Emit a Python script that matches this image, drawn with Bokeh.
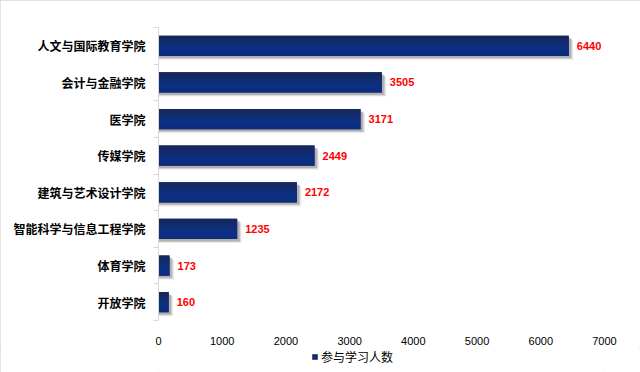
from bokeh.plotting import figure
from bokeh.layouts import column
from bokeh.models import (ColumnDataSource, Range1d, FixedTicker, LinearAxis,
                          Legend, LegendItem, NumeralTickFormatter)
from bokeh.transform import dodge
from bokeh.core.properties import value
from bokeh.embed import file_html
from bokeh.resources import INLINE

# ---- data ----
categories = ["人文与国际教育学院", "会计与金融学院", "医学院", "传媒学院",
              "建筑与艺术设计学院", "智能科学与信息工程学院", "体育学院", "开放学院"]
counts = [6440, 3505, 3171, 2449, 2172, 1235, 173, 160]
series_name = "参与学习人数"
x_ticks = [0, 1000, 2000, 3000, 4000, 5000, 6000, 7000]

n = len(categories)
idx = list(range(n))
src = ColumnDataSource(dict(y=idx, value=counts, label=[str(c) for c in counts],
                            zero=[0] * n))

CJK = "Noto Sans CJK SC"
NUM = "Liberation Sans"
BAR = "#112a6a"

p = figure(width=640, height=347, output_backend="svg", toolbar_location=None,
           x_range=Range1d(0, 7000), y_range=Range1d(n - 0.5, -0.5),
           min_border_left=158, min_border_right=36, min_border_top=27,
           min_border_bottom=22, x_axis_location=None, y_axis_location=None)
p.outline_line_color = None
p.xgrid.visible = False
p.ygrid.visible = False
p.background_fill_color = "white"
p.border_fill_color = "white"

bar_h = 0.55
# shadow (offset down-right), soft layers
for dx, dy, alpha in [(70, 0.11, 0.15), (50, 0.08, 0.3), (35, 0.06, 0.35)]:
    p.hbar(y=dodge("y", dy, range=p.y_range), left="zero",
           right=dodge("value", dx, range=p.x_range), height=bar_h, source=src,
           fill_color="#7f7f7f", fill_alpha=alpha, line_color=None)

# main bar with a vertical gradient made from strips
base = p.hbar(y="y", left="zero", right="value", height=bar_h, source=src,
              fill_color=BAR, line_color=None)
strip_colors = ["#17275a", "#152960", "#132b68", "#102d70", "#0e2e78",
                "#0c2f7f", "#0b3085", "#0b2f86", "#0c2e82", "#0f2c78"]
k = len(strip_colors)
sh = bar_h / k
for i, c in enumerate(strip_colors):
    off = -bar_h / 2 + sh * (i + 0.5)
    p.hbar(y=dodge("y", off, range=p.y_range), left="zero", right="value",
           height=sh * 1.02, source=src, fill_color=c, line_color=None)

# value labels
p.text(x="value", y="y", text="label", source=src, x_offset=8,
       text_baseline="middle", text_align="left", text_color="#ff0000",
       text_font=value(NUM), text_font_style="bold", text_font_size="11px")

# y axis (category labels, boundary tick marks)
yax = LinearAxis(ticker=FixedTicker(ticks=idx,
                                    minor_ticks=[i - 0.5 for i in range(n + 1)]))
yax.major_label_overrides = {i: c for i, c in enumerate(categories)}
yax.major_tick_out = 0
yax.major_tick_in = 0
yax.minor_tick_out = 5
yax.minor_tick_in = 0
yax.minor_tick_line_color = "#d9d9d9"
yax.axis_line_color = "#d9d9d9"
yax.major_label_text_font = CJK
yax.major_label_text_font_style = "bold"
yax.major_label_text_font_size = "12px"
yax.major_label_text_color = "#000000"
yax.major_label_standoff = 8
p.add_layout(yax, "left")

# x axis (labels only)
xax = LinearAxis(ticker=FixedTicker(ticks=x_ticks))
xax.formatter = NumeralTickFormatter(format="0")
xax.axis_line_color = None
xax.major_tick_line_color = None
xax.minor_tick_line_color = None
xax.major_label_text_font = NUM
xax.major_label_text_font_size = "11px"
xax.major_label_text_color = "#000000"
xax.major_label_standoff = 10
p.add_layout(xax, "below")

# legend strip underneath
lg = figure(width=640, height=25, output_backend="svg", toolbar_location=None,
            x_range=Range1d(0, 1), y_range=Range1d(0, 1),
            min_border=0, x_axis_location=None, y_axis_location=None)
lg.outline_line_color = None
lg.xgrid.visible = False
lg.ygrid.visible = False
lg.border_fill_color = "white"
key_src = ColumnDataSource(dict(y=[5], left=[0], right=[0]))  # off-screen key glyph
dummy = lg.hbar(y="y", left="left", right="right", height=0.5, source=key_src,
                fill_color=BAR, line_color=None)
legend = Legend(items=[LegendItem(label=series_name, renderers=[dummy])],
                orientation="horizontal", location=(153, 7))
legend.glyph_width = 7
legend.glyph_height = 7
legend.label_standoff = 3
legend.padding = 0
legend.margin = 0
legend.border_line_color = None
legend.background_fill_alpha = 0
legend.label_text_font = CJK
legend.label_text_font_size = "12px"
legend.label_text_color = "#000000"
legend.label_height = 14
lg.add_layout(legend, "center")

layout = column(p, lg, spacing=0,
                styles={"outline": "1px solid #d9d9d9", "outline-offset": "-1px"})

open("out.html", "w").write(file_html(layout, INLINE))
